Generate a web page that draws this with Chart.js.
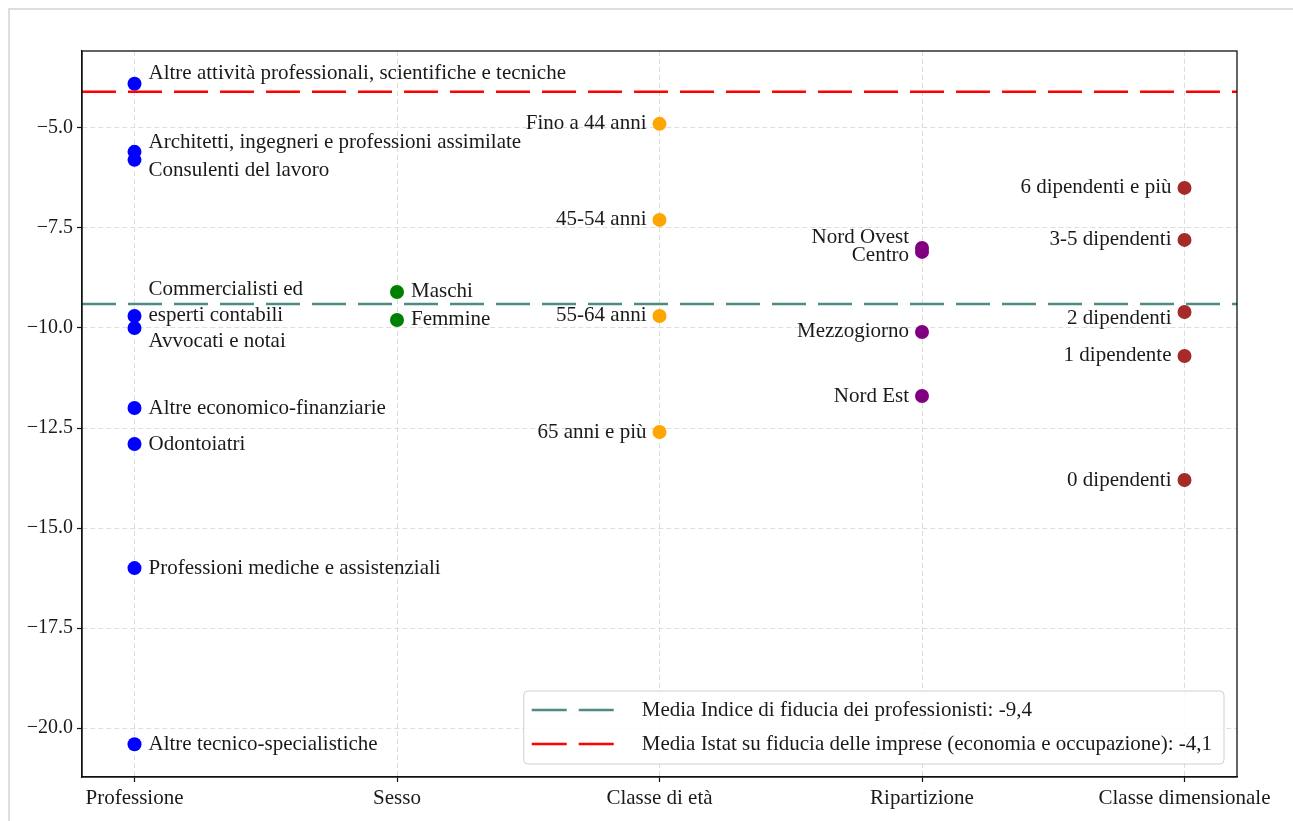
<!DOCTYPE html>
<html lang="it">
<head>
<meta charset="utf-8">
<title>Indice di fiducia dei professionisti</title>
<script src="https://cdn.jsdelivr.net/npm/chart.js@4/dist/chart.umd.min.js"></script>
<style>
  html, body { margin: 0; padding: 0; background: #fff; overflow: hidden; }
  #cornice { position: absolute; left: 8px; top: 8px; right: -20px; bottom: -20px; border: 2px solid #dedede; }
  #grafico { position: absolute; left: 0; top: 0; }
</style>
</head>
<body>
<div id="cornice"></div>
<canvas id="grafico" width="1293" height="821"></canvas>
<script>
// Categorie sull'asse x
const categorie = ["Professione", "Sesso", "Classe di età", "Ripartizione", "Classe dimensionale"];

// Professione
const professioni = [
  "Altre attività professionali, scientifiche e tecniche",
  "Architetti, ingegneri e professioni assimilate",
  "Consulenti del lavoro",
  "Commercialisti ed\nesperti contabili",
  "Avvocati e notai",
  "Altre economico-finanziarie",
  "Odontoiatri",
  "Professioni mediche e assistenziali",
  "Altre tecnico-specialistiche"
];
const valoriProfessione = [-3.9, -5.6, -5.8, -9.7, -10.0, -12.0, -12.9, -16.0, -20.4];

// Sesso
const sessi = ["Maschi", "Femmine"];
const valoriSesso = [-9.1, -9.8];

// Classe di età
const classiEta = ["Fino a 44 anni", "45-54 anni", "55-64 anni", "65 anni e più"];
const valoriEta = [-4.9, -7.3, -9.7, -12.6];

// Ripartizione
const ripartizioni = ["Nord Ovest", "Centro", "Mezzogiorno", "Nord Est"];
const valoriRipartizione = [-8.0, -8.1, -10.1, -11.7];

// Classe dimensionale
const classiDim = ["6 dipendenti e più", "3-5 dipendenti", "2 dipendenti", "1 dipendente", "0 dipendenti"];
const valoriDim = [-6.5, -7.8, -9.6, -10.7, -13.8];

// Medie (linee orizzontali)
const mediaProfessionisti = -9.4;
const mediaIstat = -4.1;
const etichettaMediaProf = "Media Indice di fiducia dei professionisti: -9,4";
const etichettaMediaIstat = "Media Istat su fiducia delle imprese (economia e occupazione): -4,1";

// Tick dell'asse y
const tickY = [-20, -17.5, -15, -12.5, -10, -7.5, -5];

const FONT = "'Liberation Serif', 'Times New Roman', serif";
const X_MIN = -0.2, X_MAX = 4.2;

// spostamenti verticali (px) delle etichette che si sovrappongono
const spostamenti = {
  "Altre attività professionali, scientifiche e tecniche": -10,
  "Architetti, ingegneri e professioni assimilate": -9,
  "Consulenti del lavoro": 11,
  "Commercialisti ed\nesperti contabili": -13,
  "Avvocati e notai": 14,
  "Nord Ovest": -10,
  "Centro": 4,
  "2 dipendenti": 7
};

function gruppo(indice, nomi, valori, colore, lato) {
  return {
    label: categorie[indice],
    data: valori.map(v => ({ x: indice, y: v })),
    nomi: nomi,
    lato: lato,
    backgroundColor: colore,
    borderWidth: 0,
    pointRadius: 7,
    pointHoverRadius: 7
  };
}

function lineaMedia(valore, colore, testo) {
  return {
    label: testo,
    data: [{ x: X_MIN, y: valore }, { x: X_MAX, y: valore }],
    showLine: true,
    borderColor: colore,
    borderWidth: 2.5,
    borderDash: [34, 12],
    pointRadius: 0,
    media: true
  };
}

// Etichette accanto ai punti
const etichettePlugin = {
  id: "etichette",
  afterDatasetsDraw(chart) {
    const ctx = chart.ctx;
    const sx = chart.scales.x, sy = chart.scales.y;
    ctx.save();
    ctx.font = "21px " + FONT;
    ctx.fillStyle = "#1a1a1a";
    ctx.textBaseline = "middle";
    chart.data.datasets.forEach(ds => {
      if (!ds.nomi) return;
      ds.data.forEach((p, i) => {
        const nome = ds.nomi[i];
        const righe = nome.split("\n");
        const px = sx.getPixelForValue(p.x);
        const py = sy.getPixelForValue(p.y) + (spostamenti[nome] || 0);
        const alt = 26;
        ctx.textAlign = ds.lato === "destra" ? "left" : "right";
        const tx = ds.lato === "destra" ? px + 14 : px - 13;
        righe.forEach((r, k) => {
          ctx.fillText(r, tx, py + (k - (righe.length - 1) / 2) * alt);
        });
      });
    });
    ctx.restore();
  }
};

// Cornice del grafico e legenda in basso a destra
const cornicePlugin = {
  id: "cornice",
  afterDraw(chart) {
    const ctx = chart.ctx;
    const a = chart.chartArea;
    ctx.save();
    ctx.strokeStyle = "#111";
    ctx.lineWidth = 1.3;
    ctx.strokeRect(a.left, a.top, a.right - a.left, a.bottom - a.top);

    const medie = chart.data.datasets.filter(d => d.media);
    ctx.font = "21px " + FONT;
    const larghTesto = Math.max(...medie.map(d => ctx.measureText(d.label).width));
    const w = 8 + 83 + 27 + larghTesto + 12;
    const h = 73;
    const x0 = a.right - 13 - w;
    const y0 = a.bottom - 13 - h;
    ctx.beginPath();
    ctx.roundRect(x0, y0, w, h, 4);
    ctx.fillStyle = "rgba(255,255,255,0.85)";
    ctx.fill();
    ctx.strokeStyle = "#d0d0d0";
    ctx.lineWidth = 1;
    ctx.stroke();
    medie.forEach((d, i) => {
      const y = y0 + 19 + i * 34;
      ctx.beginPath();
      ctx.setLineDash([35, 12]);
      ctx.strokeStyle = d.borderColor;
      ctx.lineWidth = 2.5;
      ctx.moveTo(x0 + 8, y);
      ctx.lineTo(x0 + 91, y);
      ctx.stroke();
      ctx.setLineDash([]);
      ctx.fillStyle = "#1a1a1a";
      ctx.textAlign = "left";
      ctx.textBaseline = "middle";
      ctx.fillText(d.label, x0 + 118, y);
    });
    ctx.restore();
  }
};

function creaGrafico() {
  const ctx = document.getElementById("grafico").getContext("2d");
  new Chart(ctx, {
    type: "scatter",
    data: {
      datasets: [
        lineaMedia(mediaProfessionisti, "#4f8a84", etichettaMediaProf),
        lineaMedia(mediaIstat, "#ff0000", etichettaMediaIstat),
        gruppo(0, professioni, valoriProfessione, "#0000ff", "destra"),
        gruppo(1, sessi, valoriSesso, "#008000", "destra"),
        gruppo(2, classiEta, valoriEta, "#ffa500", "sinistra"),
        gruppo(3, ripartizioni, valoriRipartizione, "#800080", "sinistra"),
        gruppo(4, classiDim, valoriDim, "#a52a2a", "sinistra")
      ]
    },
    options: {
      responsive: false,
      animation: false,
      devicePixelRatio: 1,
      layout: { padding: { top: 51, right: 56, left: 0, bottom: 0 } },
      plugins: { legend: { display: false }, tooltip: { enabled: false } },
      scales: {
        x: {
          type: "linear",
          min: X_MIN,
          max: X_MAX,
          afterBuildTicks: s => { s.ticks = categorie.map((c, i) => ({ value: i })); },
          afterFit: s => { s.height = 44; },
          ticks: {
            callback: v => categorie[v],
            color: "#1a1a1a",
            font: { family: FONT, size: 21 },
            padding: 4,
            maxRotation: 0
          },
          grid: { color: "#dddddd", lineWidth: 1, tickColor: "#111", tickLength: 5, tickWidth: 1.2, tickBorderDash: [] },
          border: { display: true, color: "#111", width: 1.3, dash: [5, 3] }
        },
        y: {
          min: -21.22,
          max: -3.08,
          afterBuildTicks: s => { s.ticks = tickY.map(v => ({ value: v })); },
          afterFit: s => { s.width = 82; },
          ticks: {
            callback: v => (v < 0 ? "\u2212" : "") + Math.abs(v).toFixed(1),
            color: "#1a1a1a",
            font: { family: FONT, size: 20 },
            padding: 4
          },
          grid: { color: "#dddddd", lineWidth: 1, tickColor: "#111", tickLength: 5, tickWidth: 1.2, tickBorderDash: [] },
          border: { display: true, color: "#111", width: 1.3, dash: [5, 3] }
        }
      }
    },
    plugins: [etichettePlugin, cornicePlugin]
  });
}

window.onload = creaGrafico;
</script>
</body>
</html>
